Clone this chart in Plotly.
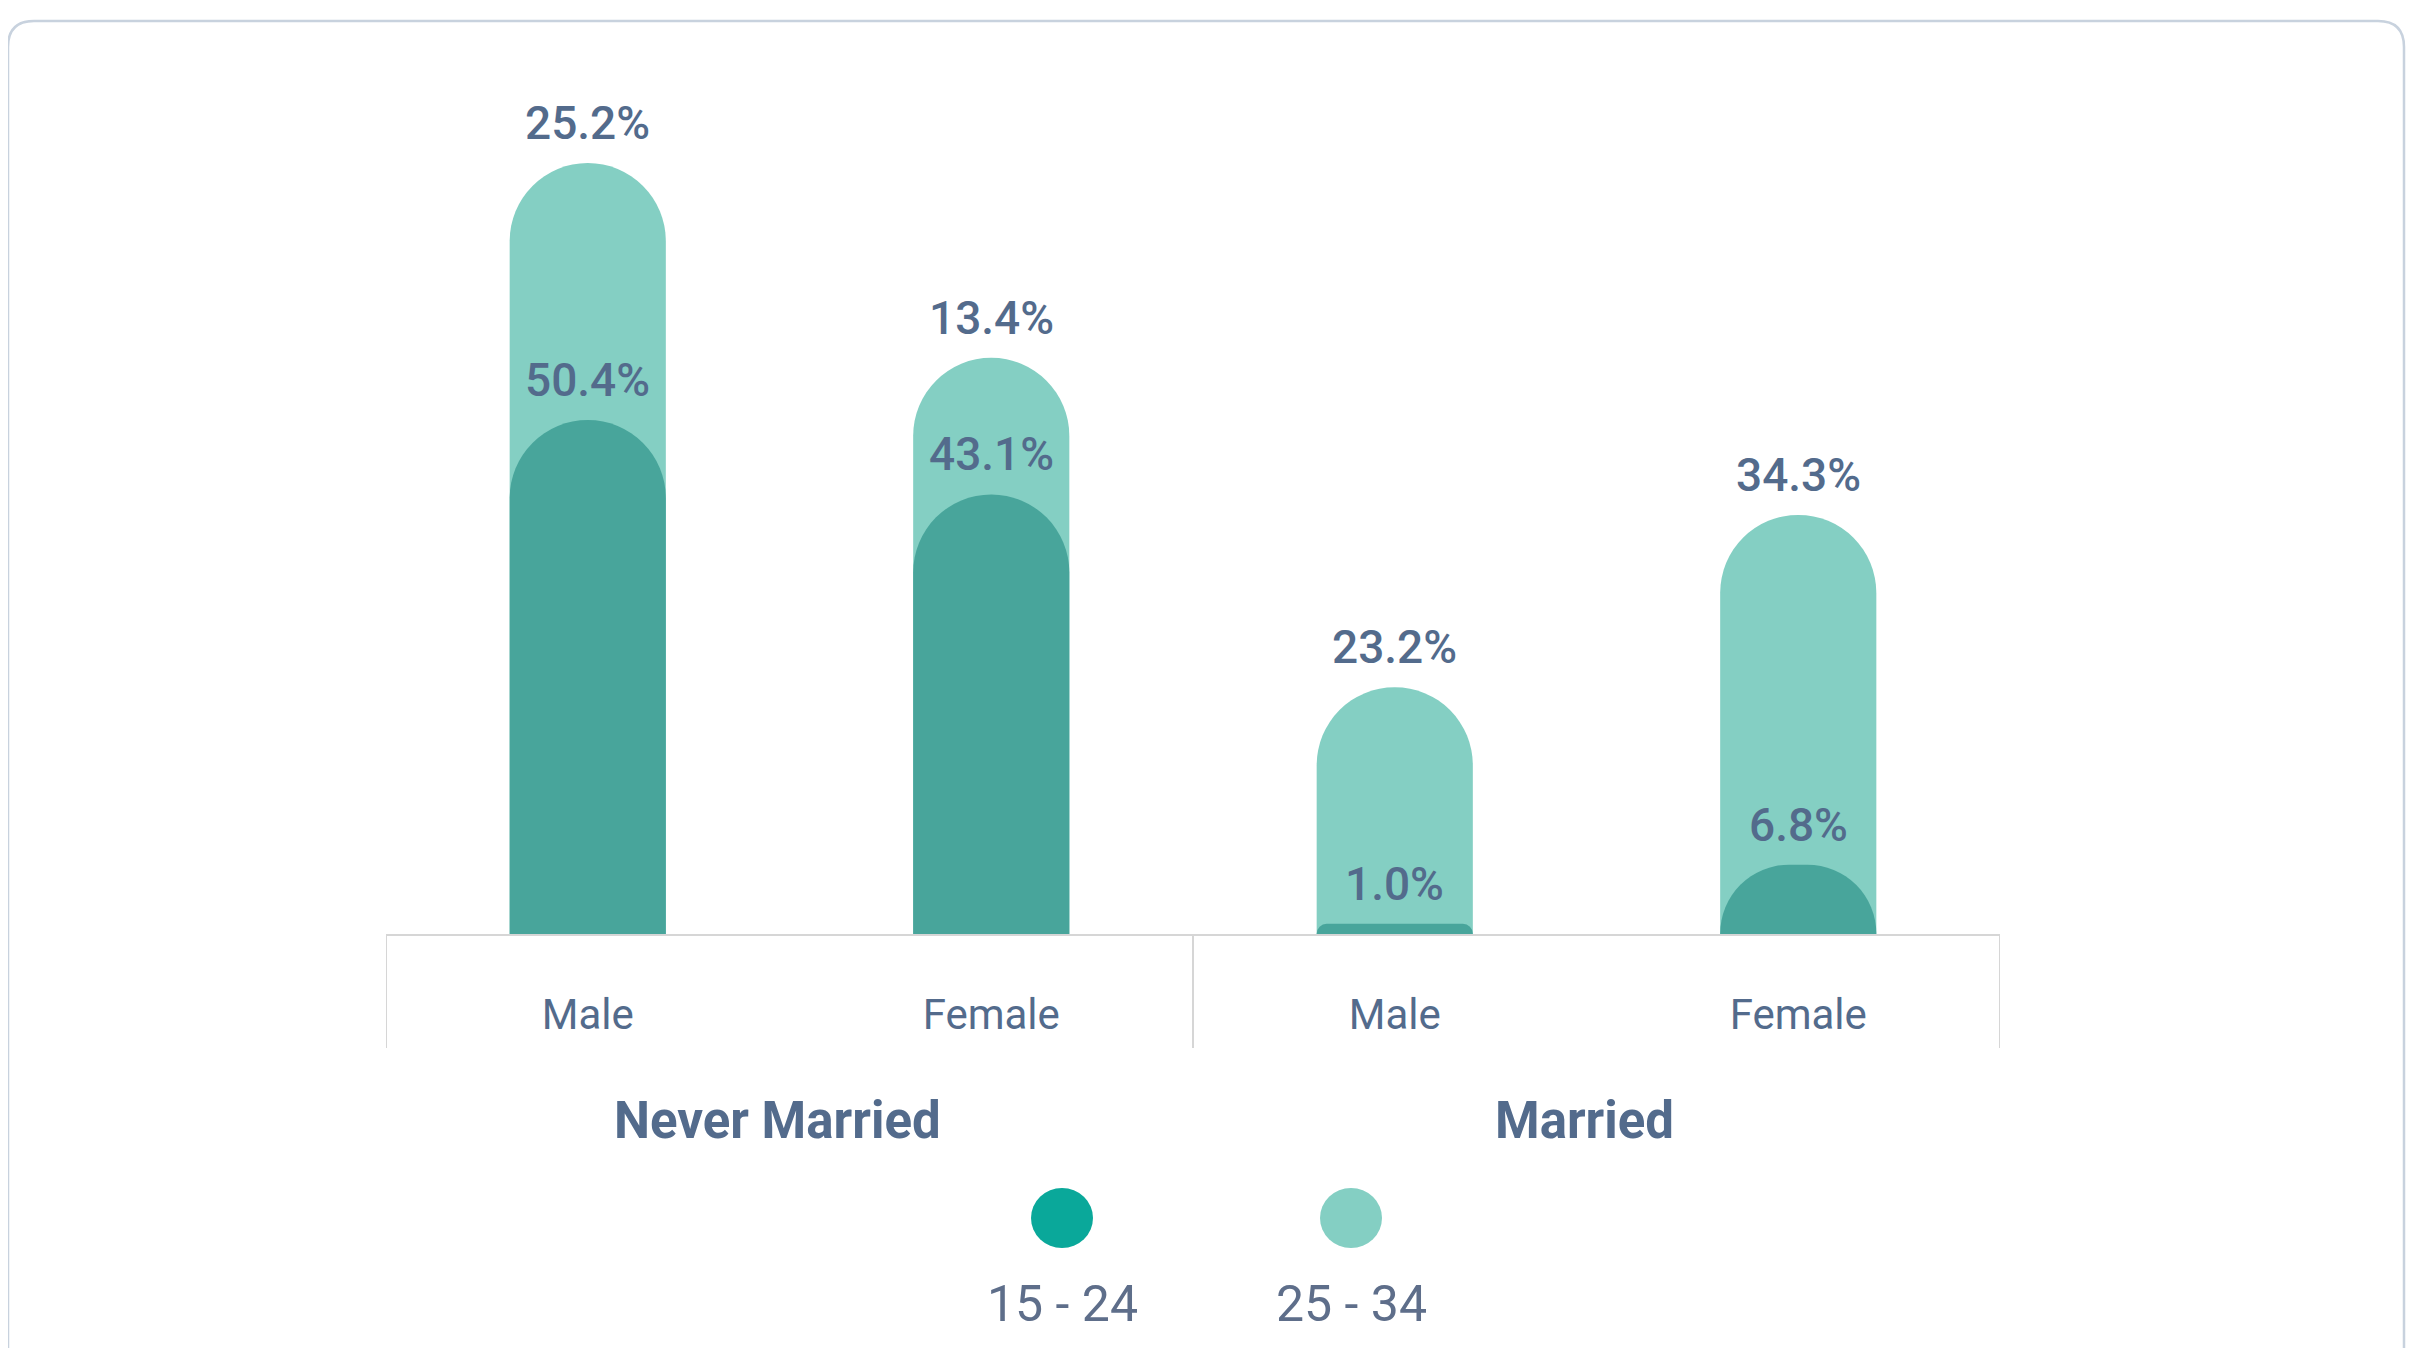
import plotly.graph_objects as go

# ---------------- data ----------------
groups = ["Never Married", "Married"]
genders = ["Male", "Female", "Male", "Female"]
group_of_bar = [0, 0, 1, 1]
age_labels = ["15 - 24", "25 - 34"]
age_15_24 = [50.4, 43.1, 1.0, 6.8]
age_25_34 = [25.2, 13.4, 23.2, 34.3]

# ---------------- style ----------------
DARK_BAR = "#48a59b"
LIGHT_BAR = "#84cfc3"
DARK_LEGEND = "#0aa89a"
TEXT = "#536b8c"
LEGEND_TEXT = "#5e6e8a"
GRID = "#d6d6d6"
FRAME = "#c8d2de"
FONT = "Roboto, 'Noto Sans', sans-serif"

W, H = 2400, 1340
ML, MR, MT, MB = 378, 408, 100, 414
PW, PH = W - ML - MR, H - MT - MB


def paper_x(fx):
    return (fx - ML) / PW


def paper_y(fy):
    return (H - MB - fy) / PH


x = list(range(len(genders)))
totals = [a + b for a, b in zip(age_15_24, age_25_34)]
BAR_W = 0.387
XR = [-0.5, len(x) - 0.5]

fig = go.Figure()
# light (25-34) bar stands behind, reaching the combined height
fig.add_bar(x=x, y=totals, width=BAR_W, name=age_labels[1], showlegend=False,
            marker=dict(color=LIGHT_BAR, cornerradius="50%", line=dict(width=0)),
            hoverinfo="skip", xaxis="x", yaxis="y")
# dark (15-24) bar in front, on an overlaying axis so it keeps its own rounded top
fig.add_bar(x=x, y=age_15_24, width=BAR_W, name=age_labels[0], showlegend=False,
            marker=dict(color=DARK_BAR, cornerradius="50%", line=dict(width=0)),
            hoverinfo="skip", xaxis="x2", yaxis="y")

annotations = []
VAL_FONT = dict(family=FONT, size=46, color=TEXT, weight=500)
for i in x:
    annotations.append(dict(x=i, y=totals[i], xref="x", yref="y", text=f"{age_25_34[i]:.1f}%",
                            showarrow=False, yanchor="middle", yshift=40, font=VAL_FONT))
    annotations.append(dict(x=i, y=age_15_24[i], xref="x", yref="y", text=f"{age_15_24[i]:.1f}%",
                            showarrow=False, yanchor="middle", yshift=40, font=VAL_FONT))

# group labels
for g, name in enumerate(groups):
    idx = [i for i in x if group_of_bar[i] == g]
    annotations.append(dict(x=sum(idx) / len(idx), y=paper_y(1112), xref="x", yref="paper",
                            text=name, showarrow=False, yanchor="middle", xshift=-12,
                            font=dict(family=FONT, size=51, color=TEXT, weight="bold")))

shapes = []
# dividers
bounds = [x[0] - 0.5] + [i - 0.5 for i in x[1:] if group_of_bar[i] != group_of_bar[i - 1]] + [x[-1] + 0.5]
for b in bounds:
    shapes.append(dict(type="line", xref="x", yref="paper", x0=b, x1=b, y0=0, y1=paper_y(1040),
                       line=dict(color=GRID, width=2)))

# legend
leg_cx = [1054, 1343]
leg_cy = 1210
R = 31
leg_colors = [DARK_LEGEND, LIGHT_BAR]
for cx, col, lab in zip(leg_cx, leg_colors, age_labels):
    shapes.append(dict(type="circle", xref="paper", yref="paper",
                       x0=paper_x(cx - R), x1=paper_x(cx + R),
                       y0=paper_y(leg_cy + R - 1), y1=paper_y(leg_cy - R + 1),
                       fillcolor=col, line=dict(width=0)))
    annotations.append(dict(x=paper_x(cx), y=paper_y(1296), xref="paper", yref="paper",
                            text=lab, showarrow=False, yanchor="middle",
                            font=dict(family=FONT, size=50, color=LEGEND_TEXT)))

# outer card frame (rounded top corners)
fx0, fx1, fy0, fy1 = 0, 2396, 13, 1420
rr = 26
path = (f"M {paper_x(fx0)},{paper_y(fy1)} L {paper_x(fx0)},{paper_y(fy0 + rr)} "
        f"Q {paper_x(fx0)},{paper_y(fy0)} {paper_x(fx0 + rr)},{paper_y(fy0)} "
        f"L {paper_x(fx1 - rr)},{paper_y(fy0)} "
        f"Q {paper_x(fx1)},{paper_y(fy0)} {paper_x(fx1)},{paper_y(fy0 + rr)} "
        f"L {paper_x(fx1)},{paper_y(fy1)}")
shapes.append(dict(type="path", xref="paper", yref="paper", path=path,
                   line=dict(color=FRAME, width=2.5)))

fig.update_layout(
    width=W, height=H,
    margin=dict(l=ML, r=MR, t=MT, b=MB, pad=0),
    barmode="overlay",
    plot_bgcolor="white", paper_bgcolor="white",
    showlegend=False,
    annotations=annotations,
    shapes=shapes,
    font=dict(family=FONT, color=TEXT),
    xaxis=dict(range=XR, tickvals=x, ticktext=genders,
               showgrid=False, zeroline=False, showline=True, linecolor=GRID, linewidth=2,
               ticks="", ticklabelstandoff=43,
               tickfont=dict(family=FONT, size=42, color=TEXT), fixedrange=True),
    xaxis2=dict(range=XR, overlaying="x", visible=False, showgrid=False, zeroline=False,
                fixedrange=True),
    yaxis=dict(range=[0, 81.0], visible=False, showgrid=False, zeroline=False, fixedrange=True),
)

fig.write_html("out.html")
